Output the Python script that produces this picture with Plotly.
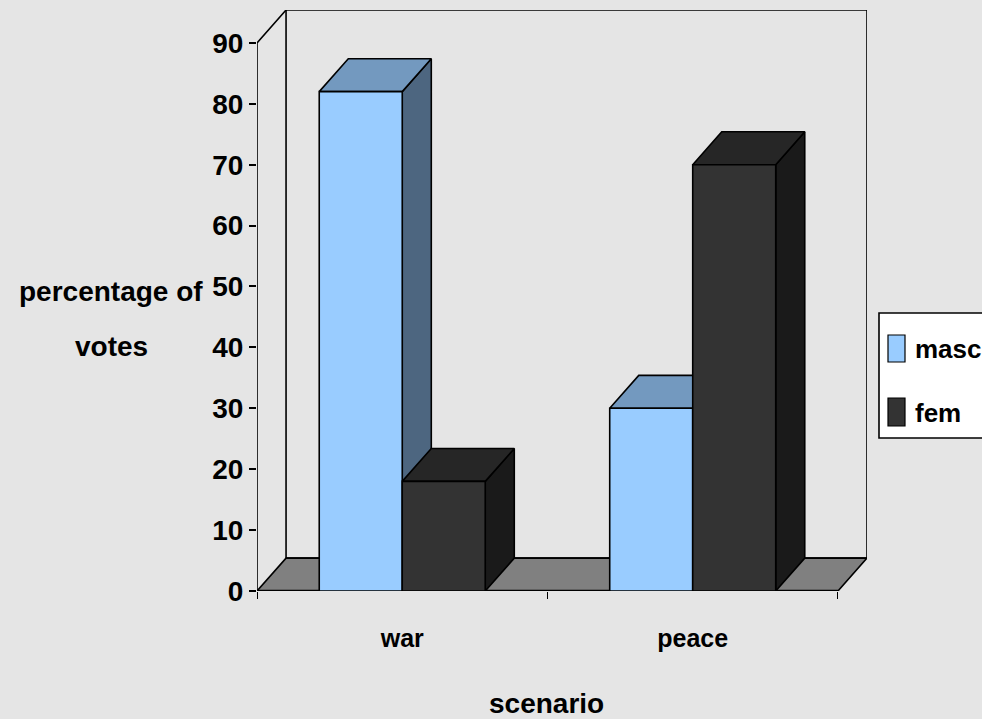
import plotly.graph_objects as go

categories = ["war", "peace"]
masc_values = [82, 30]
fem_values = [18, 70]
y_ticks = [0, 10, 20, 30, 40, 50, 60, 70, 80, 90]
series_names = ["masc", "fem"]

BG = "#e5e5e5"
FONT = "Liberation Sans"
BAR_W = 1 / 3.5
DX, DY = 0.1, 5.4
LEFT, RIGHT, TOP = -0.5, 1.5, 90
LINE = dict(color="black", width=1.6)
xs = list(range(len(categories)))

fig = go.Figure()


def poly(px, py, fill, z, line=LINE):
    fig.add_trace(go.Scatter(x=px, y=py, mode="lines", fill="toself", fillcolor=fill,
                             line=line, showlegend=False, hoverinfo="skip", zorder=z))


def path(px, py, width=1.6):
    fig.add_trace(go.Scatter(x=px, y=py, mode="lines", line=dict(color="black", width=width),
                             showlegend=False, hoverinfo="skip", zorder=0))


# back wall, floor and axis frame
poly([LEFT + DX, RIGHT + DX, RIGHT + DX, LEFT + DX, LEFT + DX], [DY, DY, TOP + DY, TOP + DY, DY], BG, 0)
poly([LEFT, LEFT + DX, RIGHT + DX, RIGHT, LEFT], [0, DY, DY, 0, 0], "#808080", 0)
path([LEFT, LEFT, LEFT + DX], [0, TOP, TOP + DY])
path([LEFT, RIGHT], [0, 0], 2.4)


def bar_3d(values, x0_off, name, front, top, side, z):
    for x, v in zip(xs, values):
        l, r = x + x0_off, x + x0_off + BAR_W
        poly([r, r + DX, r + DX, r, r], [0, DY, v + DY, v, 0], side, z)
        poly([l, l + DX, r + DX, r, l], [v, v + DY, v + DY, v, v], top, z)
    fig.add_trace(go.Bar(x=xs, y=values, width=BAR_W, offset=x0_off, name=name,
                         marker=dict(color=front, line=LINE), zorder=z + 1, showlegend=False))


bar_3d(masc_values, -BAR_W, series_names[0], "#99ccff", "#7399bf", "#4d6680", 1)
bar_3d(fem_values, 0, series_names[1], "#333333", "#262626", "#1a1a1a", 3)

fig.update_layout(
    width=982, height=719, autosize=False,
    margin=dict(l=257, r=115, t=10, b=128, pad=0),
    paper_bgcolor=BG, plot_bgcolor=BG,
    showlegend=False, barmode="overlay",
    font=dict(family=FONT, color="black"),
    xaxis=dict(range=[LEFT, RIGHT + DX], tickmode="array", tickvals=xs, ticktext=categories,
               ticks="", showgrid=False, zeroline=False, showline=False, ticklabelstandoff=30,
               tickfont=dict(family=FONT, size=25, weight="bold"),
               minor=dict(tickmode="array", tickvals=[LEFT, 0.5, RIGHT], ticks="outside", ticklen=7,
                          tickcolor="black", tickwidth=1.2, showgrid=False)),
    yaxis=dict(range=[0, TOP + DY], tickmode="array", tickvals=y_ticks, ticks="outside", ticklen=7,
               tickcolor="black", tickwidth=1.6, showgrid=False, zeroline=False, showline=False,
               tickfont=dict(family=FONT, size=28, weight="bold")),
    shapes=[
        dict(type="rect", xref="paper", yref="paper", xsizemode="pixel", ysizemode="pixel",
             xanchor=0, yanchor=1, x0=622, x1=730, y0=-303, y1=-428,
             fillcolor="white", line=dict(color="black", width=1.6)),
        dict(type="rect", xref="paper", yref="paper", xsizemode="pixel", ysizemode="pixel",
             xanchor=0, yanchor=1, x0=631, x1=648, y0=-325, y1=-352,
             fillcolor="#99ccff", line=dict(color="black", width=1.2)),
        dict(type="rect", xref="paper", yref="paper", xsizemode="pixel", ysizemode="pixel",
             xanchor=0, yanchor=1, x0=631, x1=648, y0=-388, y1=-416,
             fillcolor="#333333", line=dict(color="black", width=1.2)),
    ],
    annotations=[
        dict(text="<b>percentage of</b>", xref="paper", yref="paper", x=(111 - 257) / 610, y=1 - 281 / 581,
             showarrow=False, font=dict(family=FONT, size=28), xanchor="center", yanchor="middle"),
        dict(text="<b>votes</b>", xref="paper", yref="paper", x=(111 - 257) / 610, y=1 - 336 / 581,
             showarrow=False, font=dict(family=FONT, size=28), xanchor="center", yanchor="middle"),
        dict(text="<b>scenario</b>", xref="paper", yref="paper", x=(546 - 257) / 610, y=1 - 693 / 581,
             showarrow=False, font=dict(family=FONT, size=28), xanchor="center", yanchor="middle"),
        dict(text=f"<b>{series_names[0]}</b>", xref="paper", yref="paper", x=(913 - 257) / 610, y=1 - 339 / 581,
             showarrow=False, font=dict(family=FONT, size=26), xanchor="left", yanchor="middle"),
        dict(text=f"<b>{series_names[1]}</b>", xref="paper", yref="paper", x=(913 - 257) / 610, y=1 - 403 / 581,
             showarrow=False, font=dict(family=FONT, size=26), xanchor="left", yanchor="middle"),
    ],
)
fig.write_html("out.html", config=dict(displayModeBar=False),
               post_script="document.body.style.margin='0';document.documentElement.style.overflow='hidden';")
